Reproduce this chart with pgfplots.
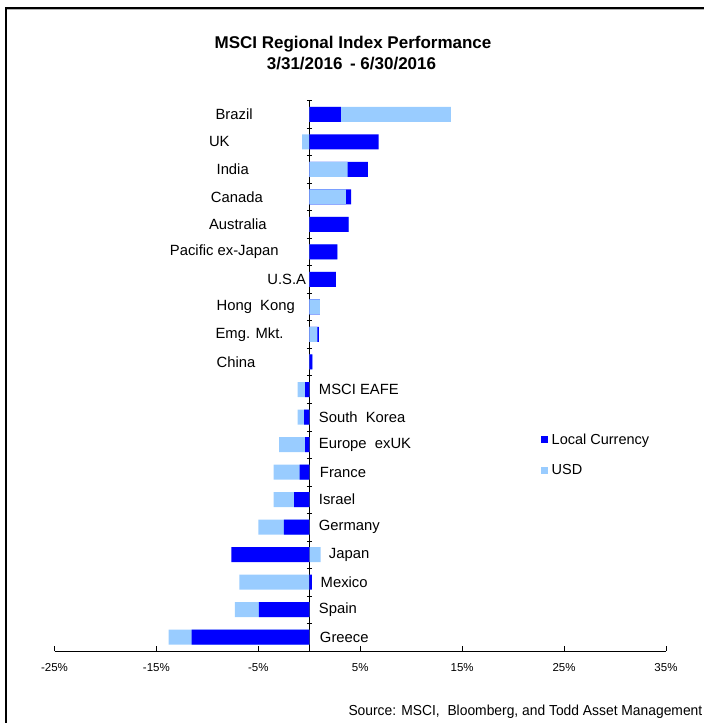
\documentclass[border=0pt]{standalone}
\usepackage{fontspec}
\setmainfont{Liberation Sans}
\usepackage{pgfplots}
\pgfplotsset{compat=1.18}
\usepackage{pgfplotstable}

\definecolor{localc}{RGB}{0,0,255}
\definecolor{usdc}{RGB}{153,204,255}

% y = row from the top (Brazil = 0), values in %
\pgfplotstableread{
y  local   usd
0  3.1     13.9
1  6.8     -0.7
2  5.75    3.75
3  4.1     3.6
4  3.85    3.85
5  2.75    2.75
6  2.6     2.6
7  1.05    1.05
8  0.95    0.8
9  0.3     0.3
10 -0.4    -1.15
11 -0.5    -1.15
12 -0.4    -2.95
13 -0.95   -3.5
14 -1.5    -3.5
15 -2.5    -5.0
16 -7.65   1.1
17 0.25    -6.85
18 -4.95   -7.3
19 -11.55  -13.8
}\perf

% USD bars that sit in front of the local bar
\pgfplotstableread{
y  usd
2  3.75
3  3.6
7  1.05
8  0.8
}\front

\begin{document}
\begin{tikzpicture}
\useasboundingbox (0,0) rectangle (704pt,723pt);
\draw[line width=1.3pt] (6pt,-5pt) -- (6pt,715pt) -- (712pt,715pt);
\draw[black!30, line width=0.8pt] (7pt,713.4pt) -- (712pt,713.4pt);

\node[font=\fontsize{17}{20}\selectfont\bfseries, anchor=base] at (353pt,674pt) {MSCI Regional Index Performance};
\node[font=\fontsize{17}{20}\selectfont\bfseries, anchor=base] at (351.5pt,653pt) {3/31/2016 \,- 6/30/2016};

\begin{axis}[
  at={(54.5pt,72pt)}, anchor=south west,
  scale only axis, width=611.5pt, height=550.5pt,
  xbar, bar shift=0pt, bar width=15pt,
  xmin=-25, xmax=35, ymin=-0.5, ymax=19.5,
  y dir=reverse,
  axis x line*=bottom, axis y line*=middle,
  xtick={-25,-15,...,35},
  xticklabel={\pgfmathprintnumber{\tick}\%},
  /pgf/number format/assume math mode=true,
  xticklabel style={font=\fontsize{11.5}{13}\selectfont, yshift=-8.5pt},
  ytick={-0.5,0.5,...,19.5}, yticklabels={},
  tick align=inside, major tick length=5pt,
  ytick style={xshift=-2.5pt},
  tick style={black, line width=0.6pt},
  axis line style={black, line width=0.8pt},
  clip=false,
  legend style={draw=none, fill=none, at={(0.7907,0.4005)}, anchor=north west,
    font=\fontsize{14.5}{17}\selectfont, row sep=17pt,
    nodes={inner sep=1pt}},
  legend cell align=left,
  legend image code/.code={\fill[#1] (0pt,-3.5pt) rectangle (7pt,3.5pt);},
]
\addplot[fill=usdc, draw=none, forget plot] table[x=usd, y=y] {\perf};
\addplot[fill=localc, draw=none, forget plot] table[x=local, y=y] {\perf};
\addplot[fill=usdc, draw=none, forget plot] table[x=usd, y=y] {\front};
\addlegendimage{fill=localc, draw=none}
\addlegendentry{\hspace{2.5pt}Local Currency}
\addlegendimage{fill=usdc, draw=none}
\addlegendentry{\hspace{2.5pt}USD}

\begin{scope}[every node/.style={font=\fontsize{14.8}{17}\selectfont, inner sep=0pt}]
\node[anchor=west] at (axis cs:-9.21,0) {Brazil};
\node[anchor=west] at (axis cs:-9.86,1) {UK};
\node[anchor=west] at (axis cs:-9.11,2) {India};
\node[anchor=west] at (axis cs:-9.67,3) {Canada};
\node[anchor=west] at (axis cs:-9.86,4) {Australia};
\node[anchor=west] at (axis cs:-13.69,5) {Pacific ex-Japan};
\node[anchor=east] at (axis cs:-0.3,6) {U.S.A};
\node[anchor=west] at (axis cs:-9.11,7) {Hong \ Kong};
\node[anchor=west] at (axis cs:-9.21,8) {Emg. Mkt.};
\node[anchor=west] at (axis cs:-9.11,9) {China};
\node[anchor=west] at (axis cs:0.93,10) {MSCI EAFE};
\node[anchor=west] at (axis cs:0.93,11) {South \ Korea};
\node[anchor=west] at (axis cs:0.93,12) {Europe \ exUK};
\node[anchor=west] at (axis cs:1.03,13) {France};
\node[anchor=west] at (axis cs:0.93,14) {Israel};
\node[anchor=west] at (axis cs:0.93,15) {Germany};
\node[anchor=west] at (axis cs:1.91,16) {Japan};
\node[anchor=west] at (axis cs:1.1,17) {Mexico};
\node[anchor=west] at (axis cs:0.93,18) {Spain};
\node[anchor=west] at (axis cs:1.03,19) {Greece};
\end{scope}
\end{axis}

\node[anchor=base west, font=\fontsize{14.5}{17}\selectfont, inner sep=0pt] at (348.3pt,7pt) {\scalebox{0.955}[1]{Source: MSCI, \ Bloomberg, and Todd Asset Management}};
\end{tikzpicture}
\end{document}
